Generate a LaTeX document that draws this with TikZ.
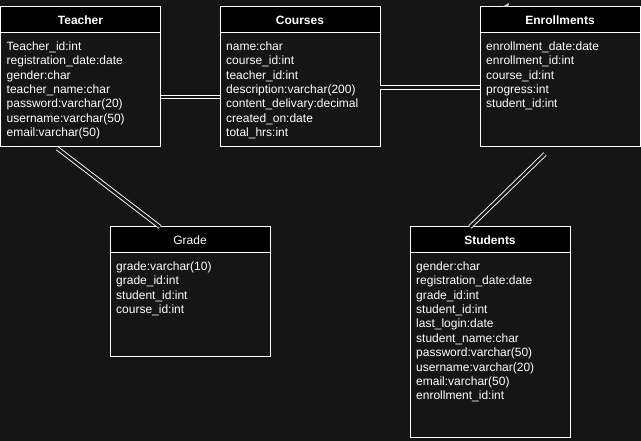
\documentclass[tikz,border=0pt]{standalone}
\usepackage{fontspec}
\setmainfont{Liberation Sans}
\usetikzlibrary{positioning}
\definecolor{canvas}{HTML}{151515}

\tikzset{
  head/.style={draw=white, line width=1pt, fill=black, text=white, inner sep=0pt, outer sep=0pt,
    minimum width=160pt, minimum height=26pt, font=\fontsize{12}{14}\selectfont\bfseries},
  body/.style={draw=white, line width=1pt, fill=canvas, inner sep=0pt, outer sep=0pt, minimum width=160pt},
  fields/.style={text=white, align=left, inner sep=0pt, anchor=north west, font=\fontsize{12}{14.4}\selectfont},
  link/.style={draw=white, line width=0.9pt, double=canvas, double distance=2.6pt}
}

\begin{document}
\begin{tikzpicture}[x=1pt, y=-1pt]
\useasboundingbox (0,0) rectangle (641,441);
\fill[canvas] (0,0) rectangle (641,441);

% teacher
\node[head] (teacherhead) at (80.5,20) {Teacher};
\node[body, minimum height=114pt, below=0pt of teacherhead] (teacher) {};
\node[fields] (teacherfields) at ([xshift=6pt,yshift=-8.5pt]teacher.north west)
  {Teacher\_id:int\\registration\_date:date\\gender:char\\teacher\_name:char\\password:varchar(20)\\username:varchar(50)\\email:varchar(50)};

% courses
\node[head] (courseshead) at (300,20) {Courses};
\node[body, minimum height=114pt, below=0pt of courseshead] (courses) {};
\node[fields] (coursesfields) at ([xshift=6pt,yshift=-8.5pt]courses.north west)
  {name:char\\course\_id:int\\teacher\_id:int\\description:varchar(200)\\content\_delivary:decimal\\created\_on:date\\total\_hrs:int};

% enrollments
\node[head] (enrollhead) at (560,20) {Enrollments};
\node[body, minimum height=114pt, below=0pt of enrollhead] (enroll) {};
\node[fields] (enrollfields) at ([xshift=6pt,yshift=-8.5pt]enroll.north west)
  {enrollment\_date:date\\enrollment\_id:int\\course\_id:int\\progress:int\\student\_id:int};
\fill[white!85!black] (502,7) -- (509,3) -- (508,7) -- cycle;

% grade
\node[head, font=\fontsize{12}{14}\selectfont] (gradehead) at (190,240) {Grade};
\node[body, minimum height=104pt, below=0pt of gradehead] (grade) {};
\node[fields] (gradefields) at ([xshift=6pt,yshift=-8.5pt]grade.north west)
  {grade:varchar(10)\\grade\_id:int\\student\_id:int\\course\_id:int};

% students
\node[head] (studenthead) at (490,240) {Students};
\node[body, minimum height=184pt, below=0pt of studenthead] (student) {};
\node[fields] (studentfields) at ([xshift=6pt,yshift=-8.5pt]student.north west)
  {gender:char\\registration\_date:date\\grade\_id:int\\student\_id:int\\last\_login:date\\student\_name:char\\password:varchar(50)\\username:varchar(20)\\email:varchar(50)\\enrollment\_id:int};

% links
\draw[link] ([yshift=-7pt]teacher.east) -- ([yshift=-7pt]courses.west);
\draw[link] ([yshift=2.5pt]courses.east) -- ([yshift=2.5pt]enroll.west);
\draw[link] ([xshift=-23pt,yshift=-1.5pt]teacher.south) -- ([xshift=-30pt]gradehead.north);
\draw[link] ([xshift=-15pt,yshift=-7pt]enroll.south) -- ([xshift=-20pt]studenthead.north);

\end{tikzpicture}
\end{document}
